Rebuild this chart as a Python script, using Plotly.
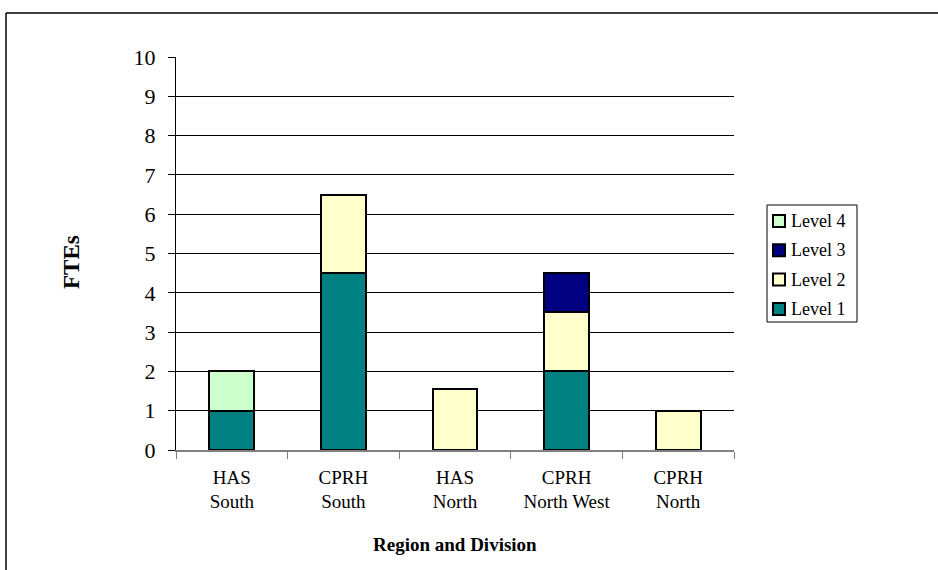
import plotly.graph_objects as go

# Categories and FTE values per level
categories = ["HAS<br>South", "CPRH<br>South", "HAS<br>North", "CPRH<br>North West", "CPRH<br>North"]
level1 = [1, 4.5, 0, 2, 0]
level2 = [0, 2, 1.55, 1.5, 1]
level3 = [0, 0, 0, 1, 0]
level4 = [1, 0, 0, 0, 0]
y_ticks = list(range(0, 11))

series = [
    ("Level 1", level1, "#008080"),
    ("Level 2", level2, "#FFFFCC"),
    ("Level 3", level3, "#000080"),
    ("Level 4", level4, "#CCFFCC"),
]

W, H = 938, 570
L, R, T, B = 176, 734, 57, 450  # plot area in pixels


def px(x):
    return (x - L) / (R - L)


def py(y):
    return (B - y) / (B - T)


FONT = "Liberation Serif, Times New Roman, serif"

fig = go.Figure()
for name, vals, color in series:
    fig.add_trace(go.Bar(
        x=categories, y=vals, name=name,
        marker=dict(color=color, line=dict(color="black", width=2)),
        showlegend=False,
    ))

shapes = [
    # outer frame: top and left edges
    dict(type="line", xref="paper", yref="paper",
         x0=px(6), y0=py(13), x1=px(W + 5), y1=py(13),
         line=dict(color="black", width=1.5)),
    dict(type="line", xref="paper", yref="paper",
         x0=px(6), y0=py(13), x1=px(6), y1=py(H + 5),
         line=dict(color="black", width=1.5)),
    # legend box
    dict(type="rect", xref="paper", yref="paper",
         x0=px(767), y0=py(205), x1=px(857), y1=py(322),
         line=dict(color="black", width=1), fillcolor="white", layer="above"),
]

annotations = [
    dict(text="<b>FTEs</b>", xref="paper", yref="paper",
         x=px(71), y=py(262), xanchor="center", yanchor="middle",
         textangle=-90, showarrow=False,
         font=dict(family=FONT, size=23, color="black")),
    dict(text="<b>Region and Division</b>", xref="paper", yref="paper",
         x=0.5, y=py(544), xanchor="center", yanchor="middle", showarrow=False,
         font=dict(family=FONT, size=19, color="black")),
]

# legend entries, top to bottom: Level 4 .. Level 1
row_y = 221
for name, _, color in reversed(series):
    shapes.append(dict(
        type="rect", xref="paper", yref="paper",
        x0=px(773), x1=px(785), y0=py(row_y - 6), y1=py(row_y + 6),
        fillcolor=color, line=dict(color="black", width=2), layer="above"))
    annotations.append(dict(
        text=name, xref="paper", yref="paper", x=px(789), y=py(row_y),
        xanchor="left", yanchor="middle", showarrow=False,
        font=dict(family=FONT, size=18, color="black")))
    row_y += 29.3

fig.update_layout(
    width=W, height=H,
    margin=dict(l=L, r=W - R, t=T, b=H - B, pad=0),
    barmode="stack",
    bargap=0.6,
    plot_bgcolor="white",
    paper_bgcolor="white",
    font=dict(family=FONT, color="black"),
    showlegend=False,
    xaxis=dict(
        showline=True, linecolor="#808080", linewidth=1.5,
        ticks="outside", tickson="boundaries", ticklen=7, tickcolor="#808080",
        tickfont=dict(family=FONT, size=19, color="black"),
        ticklabelstandoff=9,
        showgrid=False,
    ),
    yaxis=dict(
        range=[0, 10], tickvals=y_ticks,
        showline=True, linecolor="black", linewidth=1,
        ticks="outside", ticklen=7, tickcolor="black",
        tickfont=dict(family=FONT, size=22, color="black"),
        ticklabelstandoff=8,
        showgrid=True, gridcolor="black", gridwidth=1,
        zeroline=False,
    ),
    shapes=shapes,
    annotations=annotations,
)

fig.write_html("out.html")
